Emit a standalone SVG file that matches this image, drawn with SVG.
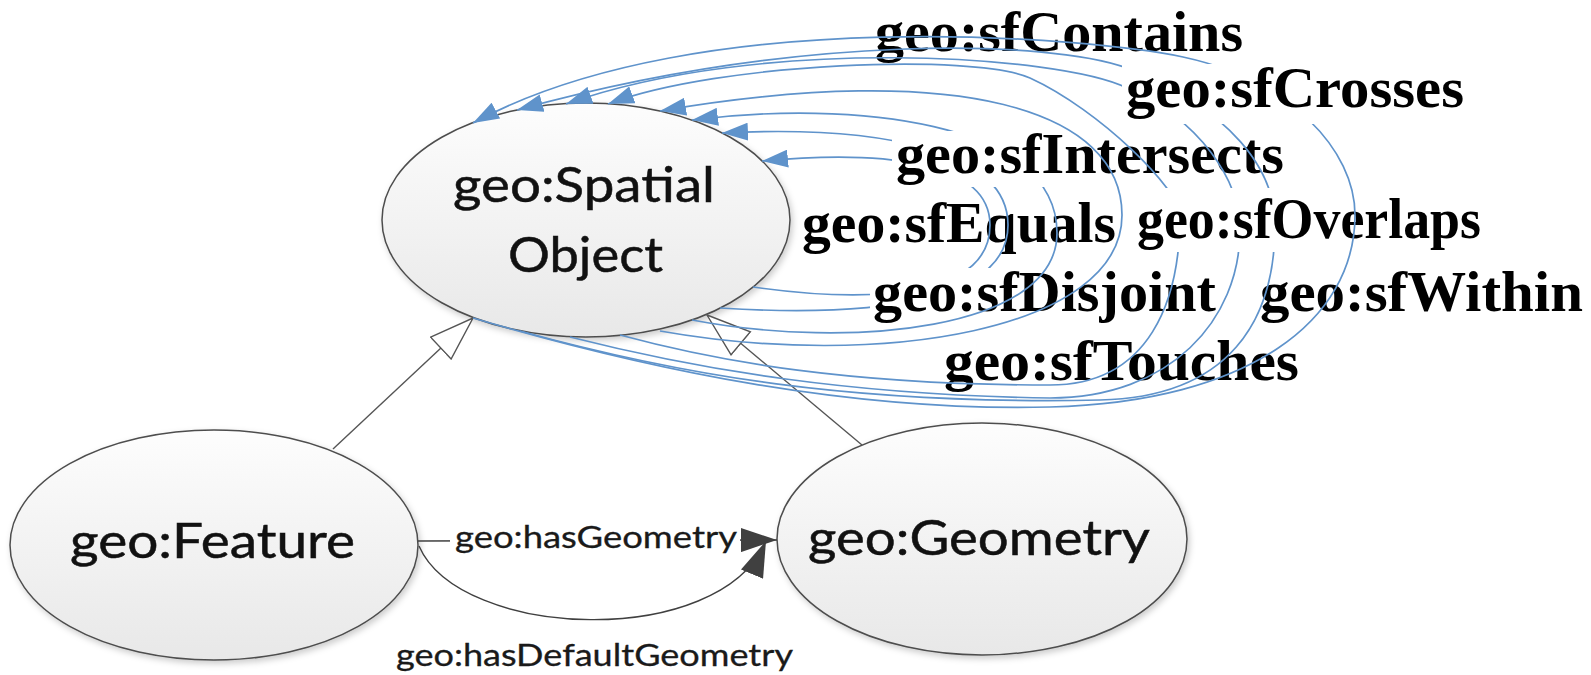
<svg xmlns="http://www.w3.org/2000/svg" width="1591" height="675" viewBox="0 0 1591 675">
<style>
.node{stroke:#4d4d4d;stroke-width:1.5;fill:url(#g)}
.nt{font-family:Lato,"Open Sans",sans-serif;font-size:49px;fill:#111;stroke:#111;stroke-width:0.5}
.et{font-family:Lato,"Open Sans",sans-serif;font-size:30px;fill:#1a1a1a;stroke:#1a1a1a;stroke-width:0.3}
.lb{font-family:"Liberation Serif","Times New Roman",serif;font-weight:bold;font-size:58px;fill:#000}
.loop{fill:none;stroke:#5f93cb;stroke-width:1.7;marker-end:url(#ba)}
.gen{fill:none;stroke:#555;stroke-width:1.4}
.bg{fill:#fff}
</style>
<defs>
<linearGradient id="g" x1="0" y1="0" x2="0" y2="1">
<stop offset="0" stop-color="#fdfdfd"/>
<stop offset="1" stop-color="#e8e8e8"/>
</linearGradient>
<filter id="sh" x="-10%" y="-10%" width="125%" height="130%">
<feDropShadow dx="2" dy="3" stdDeviation="3" flood-color="#000" flood-opacity="0.2"/>
</filter>
<marker id="ba" viewBox="0 0 26 18" refX="26" refY="9" markerWidth="26" markerHeight="18" markerUnits="userSpaceOnUse" orient="auto">
<path d="M0,0 L26,9 L0,18 z" fill="#5f93cb"/>
</marker>
<marker id="hol" viewBox="0 0 46 32" refX="45" refY="16" markerWidth="46" markerHeight="32" markerUnits="userSpaceOnUse" orient="auto">
<path d="M1,1 L45,16 L1,31 z" fill="#fff" stroke="#555" stroke-width="1.4"/>
</marker>
<marker id="fa" viewBox="0 0 36 24" refX="36" refY="12" markerWidth="36" markerHeight="24" markerUnits="userSpaceOnUse" orient="auto">
<path d="M0,0 L36,12 L0,24 z" fill="#404040"/>
</marker>
</defs>
<rect width="1591" height="675" fill="#fff"/>

<g id="node-spatial">
<ellipse class="node" cx="586" cy="220" rx="204" ry="117" filter="url(#sh)"/>
<text class="nt" x="453" y="202" textLength="262" lengthAdjust="spacingAndGlyphs">geo:Spatial</text>
<text class="nt" x="508" y="272" textLength="155" lengthAdjust="spacingAndGlyphs">Object</text>
</g>
<g id="node-feature">
<ellipse class="node" cx="214" cy="545" rx="204" ry="115" filter="url(#sh)"/>
<text class="nt" x="70" y="558" textLength="285" lengthAdjust="spacingAndGlyphs">geo:Feature</text>
</g>
<g id="node-geometry">
<ellipse class="node" cx="982" cy="539" rx="205" ry="116" filter="url(#sh)"/>
<text class="nt" x="808" y="555" textLength="342" lengthAdjust="spacingAndGlyphs">geo:Geometry</text>
</g>

<g id="connectors">
<path class="gen" d="M333,449 L473,318" marker-end="url(#hol)"/>
<path class="gen" d="M862,445 L707,315" marker-end="url(#hol)"/>
<path fill="none" stroke="#404040" stroke-width="1.4" d="M418,541 L777,540" marker-end="url(#fa)"/>
<rect class="bg" x="450" y="524" width="290" height="34"/>
<text class="et" x="455" y="548" textLength="282" lengthAdjust="spacingAndGlyphs">geo:hasGeometry</text>
<path fill="none" stroke="#404040" stroke-width="1.4" d="M419,546 C460,640 720,650 766,541" marker-end="url(#fa)"/>
<text class="et" x="396" y="666" textLength="397" lengthAdjust="spacingAndGlyphs">geo:hasDefaultGeometry</text>

<text class="lb" x="875" y="51" textLength="368" lengthAdjust="spacingAndGlyphs">geo:sfContains</text>
<text class="lb" x="802" y="242" textLength="314" lengthAdjust="spacingAndGlyphs">geo:sfEquals</text>
<text class="lb" x="1260" y="311" textLength="323" lengthAdjust="spacingAndGlyphs">geo:sfWithin</text>
<text class="lb" x="944" y="380" textLength="355" lengthAdjust="spacingAndGlyphs">geo:sfTouches</text>

<path class="loop" d="M753,287 C880,305 990,295 990,225 C990,160 880,150 762,161"/>
<path class="loop" d="M720,308 C880,318 1008,300 1008,225 C1008,150 880,125 722,133"/>
<rect class="bg" x="870" y="268" width="348" height="58"/>
<text class="lb" x="873" y="311" textLength="343" lengthAdjust="spacingAndGlyphs">geo:sfDisjoint</text>
<path class="loop" d="M692,320 C850,350 1057,330 1057,233 C1057,120 850,100 692,120"/>
<rect class="bg" x="892" y="131" width="394" height="56"/>
<text class="lb" x="896" y="173" textLength="388" lengthAdjust="spacingAndGlyphs">geo:sfIntersects</text>
<path class="loop" d="M660,331 C880,370 1122,330 1122,215 C1122,110 960,60 660,111"/>
<path class="loop" d="M620,335 C720,362 850,385 1050,385 C1150,385 1180,300 1180,215 C1180,190 1100,110 1030,78 C975,53 720,62 608,104"/>
<path class="loop" d="M570,337 C700,370 850,395 1050,398 C1170,398 1240,320 1240,230 C1240,180 1200,120 1127,88 C1060,55 760,35 566,104"/>
<path class="loop" d="M520,331 C680,375 850,405 1100,400 C1230,397 1275,320 1275,225 C1275,170 1232,110 1127,68 C1050,40 800,32 517,110"/>
<rect class="bg" x="1134" y="188" width="350" height="64"/>
<text class="lb" x="1137" y="238" textLength="344" lengthAdjust="spacingAndGlyphs">geo:sfOverlaps</text>
<path class="loop" d="M473,318 C650,370 850,412 1050,407 C1250,402 1355,320 1355,215 C1355,150 1290,80 1183,57 C1100,39 700,0 473,123"/>
<rect class="bg" x="1122" y="64" width="344" height="60"/>
<text class="lb" x="1126" y="107" textLength="338" lengthAdjust="spacingAndGlyphs">geo:sfCrosses</text>
</g>
</svg>
